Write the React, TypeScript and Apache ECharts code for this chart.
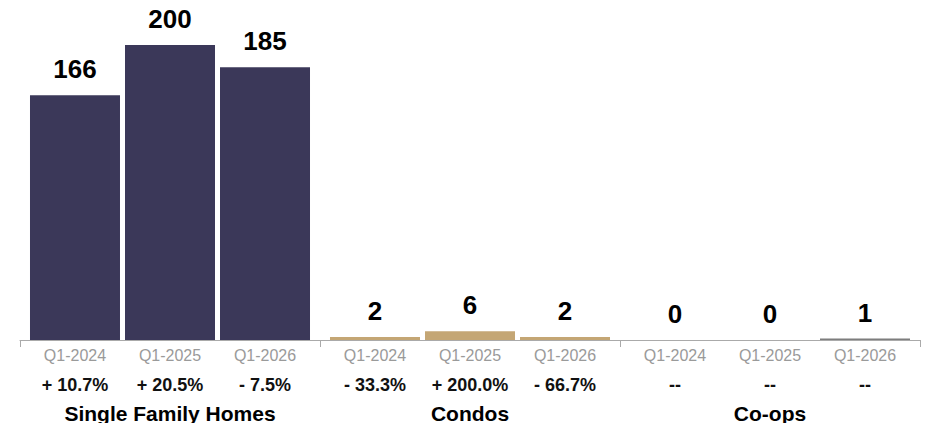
import React, { useEffect, useRef } from "react";
import * as echarts from "echarts";

const groups = ["Single Family Homes", "Condos", "Co-ops"];
const quarters = ["Q1-2024", "Q1-2025", "Q1-2026"];
const valuesQ1_2024 = [166, 2, 0];
const valuesQ1_2025 = [200, 6, 0];
const valuesQ1_2026 = [185, 2, 1];
const changeQ1_2024 = ["+ 10.7%", "- 33.3%", "--"];
const changeQ1_2025 = ["+ 20.5%", "+ 200.0%", "--"];
const changeQ1_2026 = ["- 7.5%", "- 66.7%", "--"];

const groupColors = ["#3b3859", "#c4a674", "#7d7d7d"];
const FONT = "'Liberation Sans', Arial, Helvetica, sans-serif";

export default function App() {
  const ref = useRef<HTMLDivElement>(null);

  useEffect(() => {
    if (!ref.current) return;
    const chart = echarts.init(ref.current, undefined, { renderer: "svg" });
    const valueSets = [valuesQ1_2024, valuesQ1_2025, valuesQ1_2026];
    const changeSets = [changeQ1_2024, changeQ1_2025, changeQ1_2026];

    const barSeries = quarters.map((q, si) => ({
      name: q,
      type: "bar",
      xAxisIndex: 0,
      barWidth: 90,
      barGap: "5.56%",
      data: valueSets[si].map((v, gi) => ({
        value: v,
        itemStyle: { color: groupColors[gi] },
      })),
      label: {
        show: true,
        position: "top",
        distance: 13,
        fontFamily: FONT,
        fontSize: 26,
        fontWeight: "bold",
        color: "#000",
      },
    }));

    const labelSeries = quarters.map((q, si) => ({
      name: q + " labels",
      type: "bar",
      xAxisIndex: 1,
      barWidth: 90,
      barGap: "5.56%",
      silent: true,
      itemStyle: { color: "rgba(0,0,0,0)" },
      data: groups.map(() => 0),
      label: {
        show: true,
        position: "bottom",
        distance: 1,
        formatter: (p: any) => `{q|${q}}\n{p|${changeSets[si][p.dataIndex]}}`,
        rich: {
          q: {
            fontFamily: FONT,
            fontSize: 16,
            color: "#9a9a9a",
            lineHeight: 29.5,
            align: "center",
          },
          p: {
            fontFamily: FONT,
            fontSize: 18,
            fontWeight: "bold",
            color: "#111",
            lineHeight: 29.5,
            align: "center",
          },
        },
      },
    }));

    chart.setOption({
      animation: false,
      grid: { left: 20, right: 10, top: 45, bottom: 91 },
      xAxis: [
        {
          type: "category",
          data: groups,
          axisLine: { lineStyle: { color: "#aaaaaa", width: 1 } },
          axisTick: { show: true, length: 7, lineStyle: { color: "#aaaaaa" } },
          axisLabel: {
            margin: 63,
            fontFamily: FONT,
            fontSize: 21,
            fontWeight: "bold",
            color: "#000",
          },
        },
        {
          type: "category",
          data: groups,
          show: false,
        },
      ],
      yAxis: {
        type: "value",
        min: 0,
        max: 200,
        show: false,
        splitLine: { show: false },
      },
      series: [...barSeries, ...labelSeries],
    });

    return () => chart.dispose();
  }, []);

  return <div ref={ref} style={{ width: 930, height: 431, margin: -8 }} />;
}
